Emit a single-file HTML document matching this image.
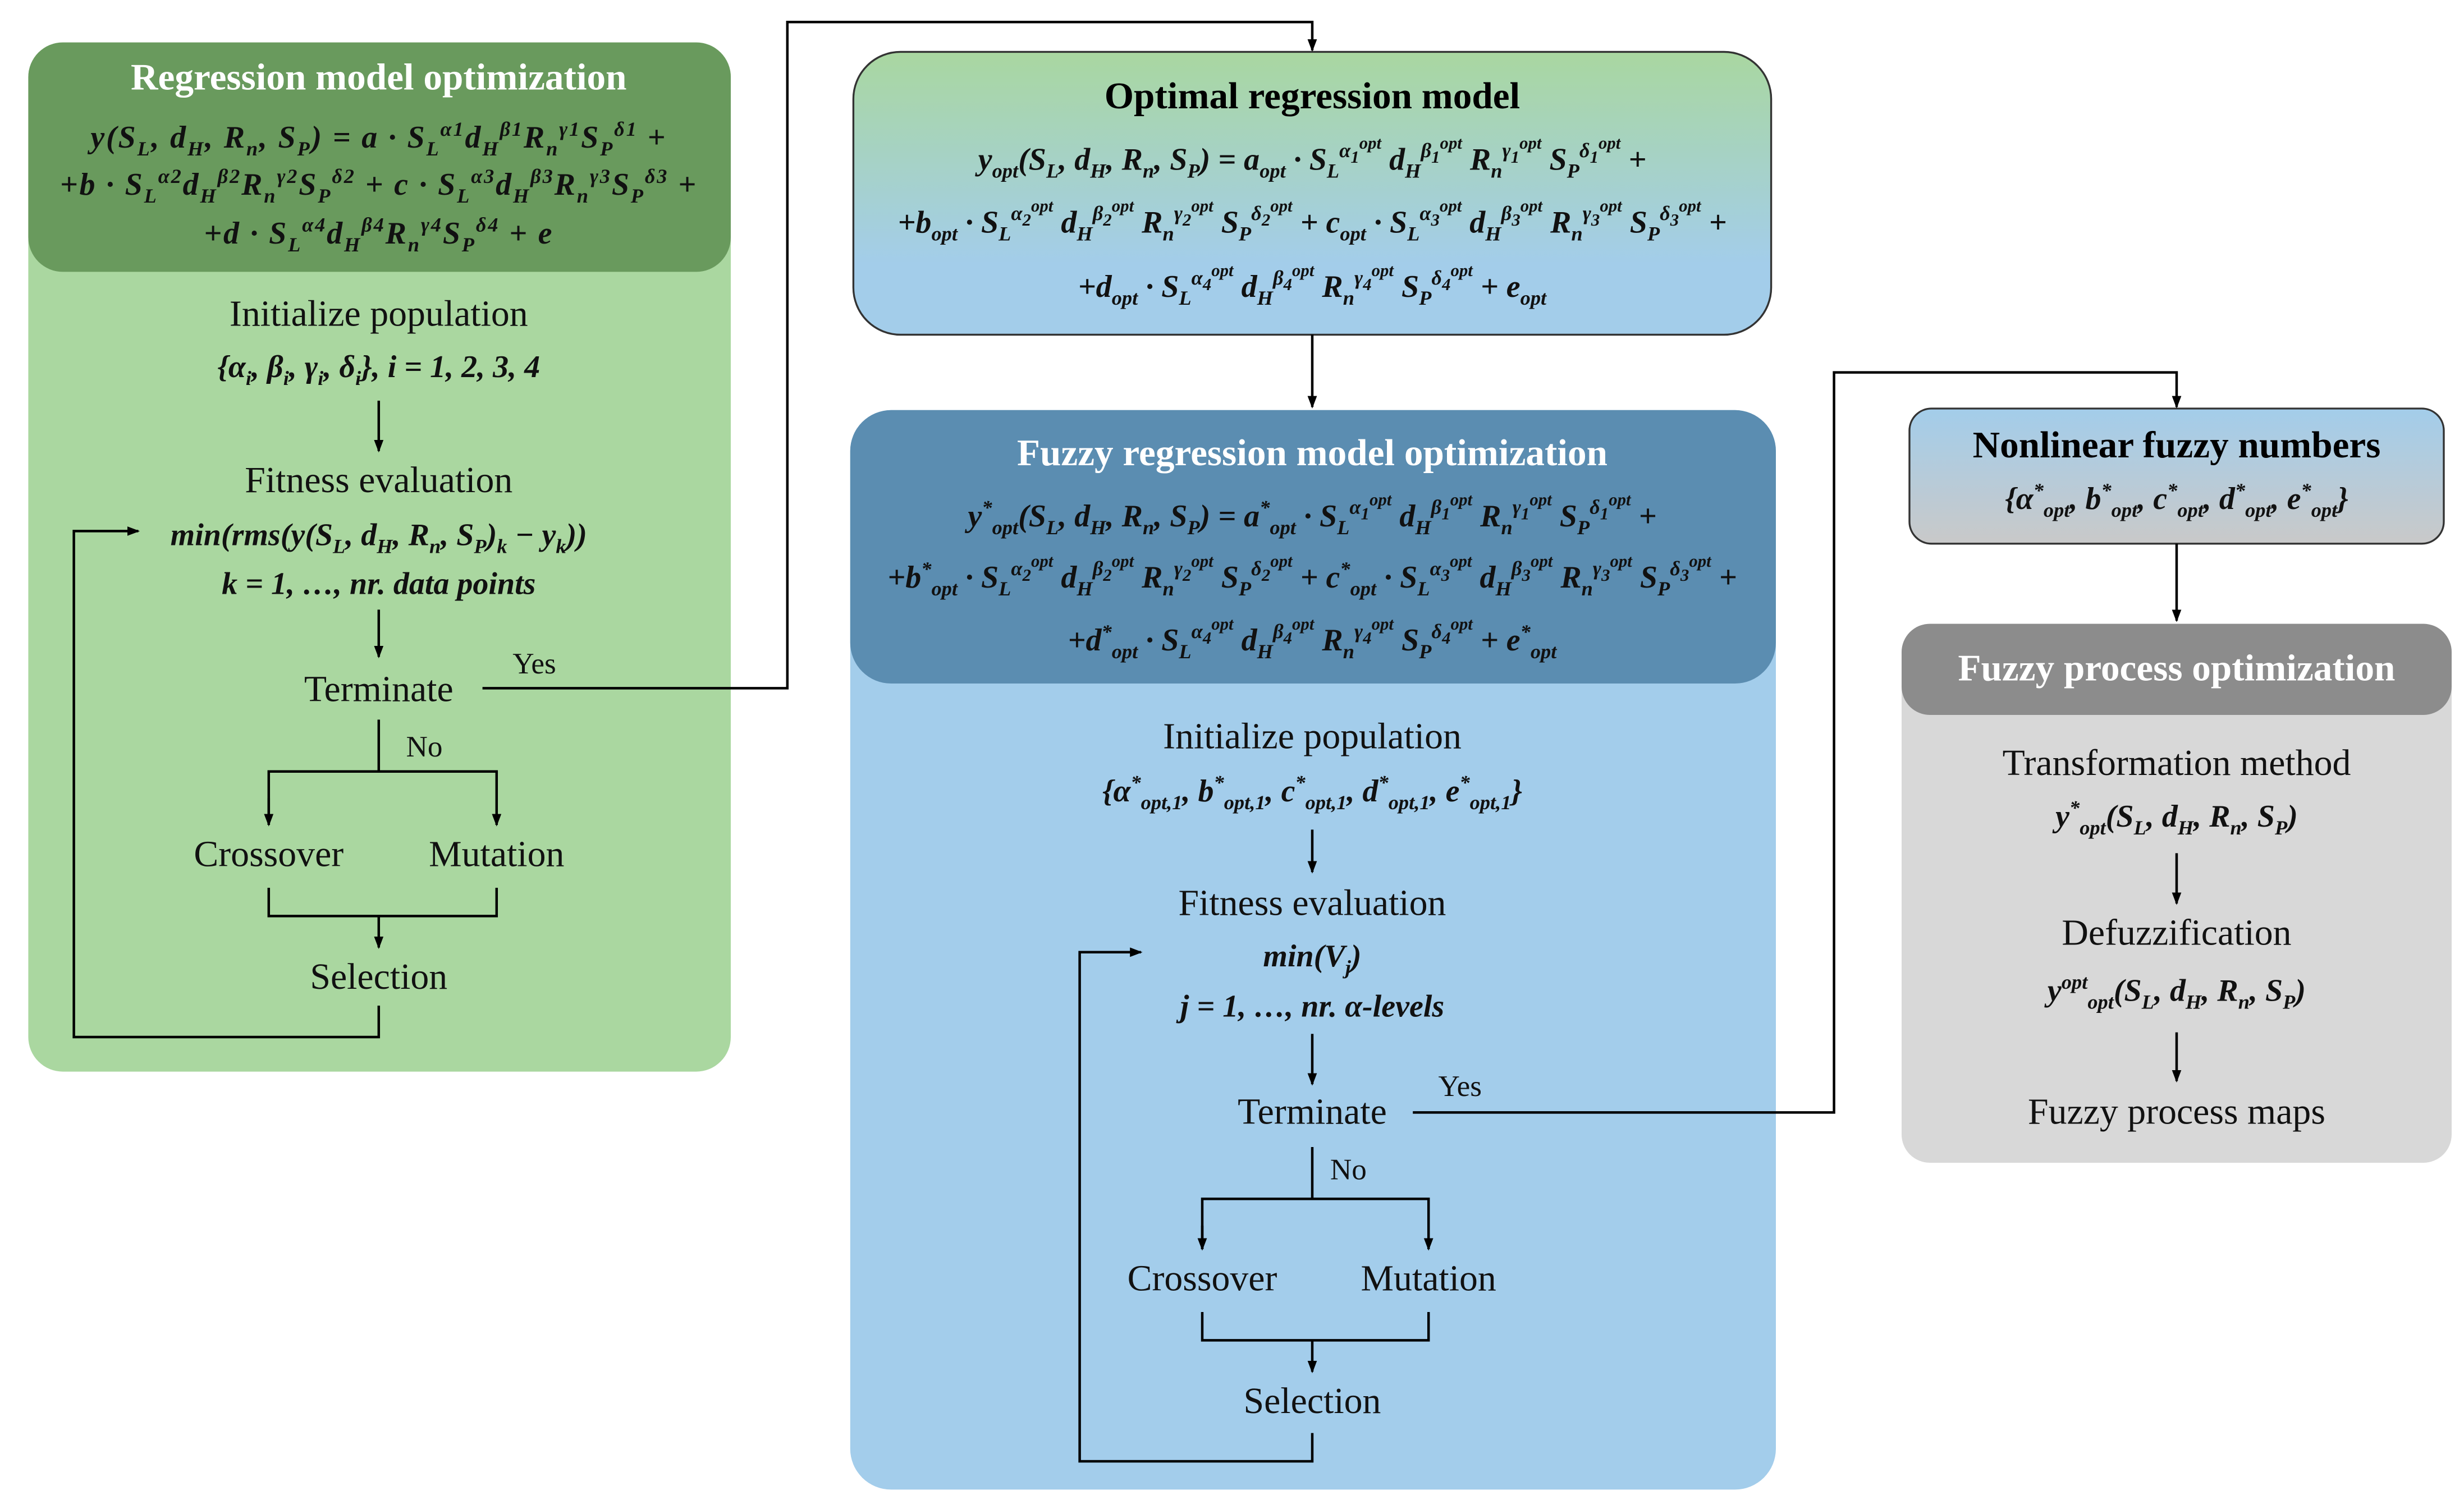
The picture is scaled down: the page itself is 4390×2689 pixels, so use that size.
<!DOCTYPE html>
<html><head><meta charset="utf-8"><style>
html,body{margin:0;padding:0;background:#fff;width:4390px;height:2689px;overflow:hidden}
#c{position:absolute;left:0;top:0;width:1568px;height:960px;transform:scale(2.8);transform-origin:0 0;font-family:"Liberation Serif",serif}
.t{position:absolute;width:700px;text-align:center;transform:translate(-350px,-50%);white-space:nowrap;line-height:1}
.h{font-weight:bold;font-size:24px}
.w{color:#fff}
.b{font-size:23.5px;color:#111}
.e{font-weight:bold;font-style:italic;font-size:20px;color:#111}
.e sub,.e sup{font-size:13px;line-height:0}
.e sup sup,.e sup sub{font-size:11px}
.l{letter-spacing:1px}
</style></head><body><div id="c">
<svg width="1568" height="960" style="position:absolute;left:0;top:0">
<defs>
<linearGradient id="g1" x1="0" y1="0" x2="0" y2="1"><stop offset="0" stop-color="#a9d7a0"/><stop offset="0.75" stop-color="#a3cdea"/></linearGradient>
<linearGradient id="g2" x1="0" y1="0" x2="0" y2="1"><stop offset="0" stop-color="#a3cdea"/><stop offset="1" stop-color="#c9c9c9"/></linearGradient>
<marker id="a" markerWidth="8" markerHeight="8" refX="7" refY="4" orient="auto" markerUnits="userSpaceOnUse"><path d="M0,1 L8,4 L0,7 z" fill="#000"/></marker>
</defs>
<rect x="18" y="27" width="447" height="655" rx="22" fill="#aad7a0"/>
<rect x="18" y="27" width="447" height="146" rx="22" fill="#699a5d"/>
<rect x="543" y="33" width="584" height="180" rx="30" fill="url(#g1)" stroke="#333" stroke-width="1.2"/>
<rect x="541" y="261" width="589" height="687" rx="26" fill="#a3cdeb"/>
<rect x="541" y="261" width="589" height="174" rx="26" fill="#5b8db1"/>
<rect x="1215" y="260" width="340" height="86" rx="14" fill="url(#g2)" stroke="#333" stroke-width="1.2"/>
<rect x="1210" y="397" width="350" height="343" rx="18" fill="#d8d8d8"/>
<rect x="1210" y="397" width="350" height="58" rx="18" fill="#8c8c8c"/>
<g stroke="#000" stroke-width="1.6" fill="none">
<line x1="241" y1="255" x2="241" y2="287" marker-end="url(#a)"/>
<line x1="241" y1="388" x2="241" y2="418" marker-end="url(#a)"/>
<polyline points="307,438 501,438 501,14 835,14 835,32" marker-end="url(#a)"/>
<polyline points="241,458 241,491"/>
<polyline points="171,525 171,491 316,491 316,525" marker-end="url(#a)"/>
<line x1="171" y1="508" x2="171" y2="525" marker-end="url(#a)"/>
<polyline points="171,565 171,583 316,583 316,565"/>
<line x1="241" y1="583" x2="241" y2="603" marker-end="url(#a)"/>
<polyline points="241,640 241,660 47,660 47,338 88,338" marker-end="url(#a)"/>
<line x1="835" y1="213" x2="835" y2="259" marker-end="url(#a)"/>
<line x1="835" y1="528" x2="835" y2="555" marker-end="url(#a)"/>
<line x1="835" y1="658" x2="835" y2="690" marker-end="url(#a)"/>
<polyline points="899,708 1167,708 1167,237 1385,237 1385,259" marker-end="url(#a)"/>
<polyline points="835,730 835,763"/>
<polyline points="765,795 765,763 909,763 909,795" marker-end="url(#a)"/>
<line x1="765" y1="780" x2="765" y2="795" marker-end="url(#a)"/>
<polyline points="765,835 765,853 909,853 909,835"/>
<line x1="835" y1="853" x2="835" y2="873" marker-end="url(#a)"/>
<polyline points="835,912 835,930 687,930 687,606 726,606" marker-end="url(#a)"/>
<line x1="1385" y1="346" x2="1385" y2="395" marker-end="url(#a)"/>
<line x1="1385" y1="543" x2="1385" y2="575" marker-end="url(#a)"/>
<line x1="1385" y1="657" x2="1385" y2="688" marker-end="url(#a)"/>
</g>
</svg>

<div class="t h w" style="left:241px;top:50px">Regression model optimization</div>
<div class="t e w l" style="left:241px;top:88px">y(S<sub>L</sub>, d<sub>H</sub>, R<sub>n</sub>, S<sub>P</sub>) = a · S<sub>L</sub><sup>α1</sup>d<sub>H</sub><sup>β1</sup>R<sub>n</sub><sup>γ1</sup>S<sub>P</sub><sup>δ1</sup> +</div>
<div class="t e w l" style="left:241px;top:118px">+b · S<sub>L</sub><sup>α2</sup>d<sub>H</sub><sup>β2</sup>R<sub>n</sub><sup>γ2</sup>S<sub>P</sub><sup>δ2</sup> + c · S<sub>L</sub><sup>α3</sup>d<sub>H</sub><sup>β3</sup>R<sub>n</sub><sup>γ3</sup>S<sub>P</sub><sup>δ3</sup> +</div>
<div class="t e w l" style="left:241px;top:149px">+d · S<sub>L</sub><sup>α4</sup>d<sub>H</sub><sup>β4</sup>R<sub>n</sub><sup>γ4</sup>S<sub>P</sub><sup>δ4</sup> + e</div>
<div class="t b" style="left:241px;top:201px">Initialize population</div>
<div class="t e" style="left:241px;top:234px">{α<sub>i</sub>, β<sub>i</sub>, γ<sub>i</sub>, δ<sub>i</sub>}, i = 1, 2, 3, 4</div>
<div class="t b" style="left:241px;top:307px">Fitness evaluation</div>
<div class="t e" style="left:241px;top:341px">min(rms(y(S<sub>L</sub>, d<sub>H</sub>, R<sub>n</sub>, S<sub>P</sub>)<sub>k</sub> − y<sub>k</sub>))</div>
<div class="t e" style="left:241px;top:372px">k = 1, …, nr. data points</div>
<div class="t b" style="left:241px;top:440px">Terminate</div>
<div class="t b" style="left:340px;top:423px;font-size:19px">Yes</div>
<div class="t b" style="left:270px;top:476px;font-size:19px">No</div>
<div class="t b" style="left:171px;top:545px">Crossover</div>
<div class="t b" style="left:316px;top:545px">Mutation</div>
<div class="t b" style="left:241px;top:623px">Selection</div>

<div class="t h" style="left:835px;top:62px">Optimal regression model</div>
<div class="t e" style="left:835px;top:102px">y<sub>opt</sub>(S<sub>L</sub>, d<sub>H</sub>, R<sub>n</sub>, S<sub>P</sub>) = a<sub>opt</sub> · S<sub>L</sub><sup>α<sub>1</sub><sup>opt</sup></sup> d<sub>H</sub><sup>β<sub>1</sub><sup>opt</sup></sup> R<sub>n</sub><sup>γ<sub>1</sub><sup>opt</sup></sup> S<sub>P</sub><sup>δ<sub>1</sub><sup>opt</sup></sup> +</div>
<div class="t e" style="left:835px;top:142px">+b<sub>opt</sub> · S<sub>L</sub><sup>α<sub>2</sub><sup>opt</sup></sup> d<sub>H</sub><sup>β<sub>2</sub><sup>opt</sup></sup> R<sub>n</sub><sup>γ<sub>2</sub><sup>opt</sup></sup> S<sub>P</sub><sup>δ<sub>2</sub><sup>opt</sup></sup> + c<sub>opt</sub> · S<sub>L</sub><sup>α<sub>3</sub><sup>opt</sup></sup> d<sub>H</sub><sup>β<sub>3</sub><sup>opt</sup></sup> R<sub>n</sub><sup>γ<sub>3</sub><sup>opt</sup></sup> S<sub>P</sub><sup>δ<sub>3</sub><sup>opt</sup></sup> +</div>
<div class="t e" style="left:835px;top:183px">+d<sub>opt</sub> · S<sub>L</sub><sup>α<sub>4</sub><sup>opt</sup></sup> d<sub>H</sub><sup>β<sub>4</sub><sup>opt</sup></sup> R<sub>n</sub><sup>γ<sub>4</sub><sup>opt</sup></sup> S<sub>P</sub><sup>δ<sub>4</sub><sup>opt</sup></sup> + e<sub>opt</sub></div>

<div class="t h w" style="left:835px;top:289px">Fuzzy regression model optimization</div>
<div class="t e w" style="left:835px;top:329px">y<sup>*</sup><sub>opt</sub>(S<sub>L</sub>, d<sub>H</sub>, R<sub>n</sub>, S<sub>P</sub>) = a<sup>*</sup><sub>opt</sub> · S<sub>L</sub><sup>α<sub>1</sub><sup>opt</sup></sup> d<sub>H</sub><sup>β<sub>1</sub><sup>opt</sup></sup> R<sub>n</sub><sup>γ<sub>1</sub><sup>opt</sup></sup> S<sub>P</sub><sup>δ<sub>1</sub><sup>opt</sup></sup> +</div>
<div class="t e w" style="left:835px;top:368px">+b<sup>*</sup><sub>opt</sub> · S<sub>L</sub><sup>α<sub>2</sub><sup>opt</sup></sup> d<sub>H</sub><sup>β<sub>2</sub><sup>opt</sup></sup> R<sub>n</sub><sup>γ<sub>2</sub><sup>opt</sup></sup> S<sub>P</sub><sup>δ<sub>2</sub><sup>opt</sup></sup> + c<sup>*</sup><sub>opt</sub> · S<sub>L</sub><sup>α<sub>3</sub><sup>opt</sup></sup> d<sub>H</sub><sup>β<sub>3</sub><sup>opt</sup></sup> R<sub>n</sub><sup>γ<sub>3</sub><sup>opt</sup></sup> S<sub>P</sub><sup>δ<sub>3</sub><sup>opt</sup></sup> +</div>
<div class="t e w" style="left:835px;top:408px">+d<sup>*</sup><sub>opt</sub> · S<sub>L</sub><sup>α<sub>4</sub><sup>opt</sup></sup> d<sub>H</sub><sup>β<sub>4</sub><sup>opt</sup></sup> R<sub>n</sub><sup>γ<sub>4</sub><sup>opt</sup></sup> S<sub>P</sub><sup>δ<sub>4</sub><sup>opt</sup></sup> + e<sup>*</sup><sub>opt</sub></div>
<div class="t b" style="left:835px;top:470px">Initialize population</div>
<div class="t e" style="left:835px;top:504px">{α<sup>*</sup><sub>opt,1</sub>, b<sup>*</sup><sub>opt,1</sub>, c<sup>*</sup><sub>opt,1</sub>, d<sup>*</sup><sub>opt,1</sub>, e<sup>*</sup><sub>opt,1</sub>}</div>
<div class="t b" style="left:835px;top:576px">Fitness evaluation</div>
<div class="t e" style="left:835px;top:609px">min(V<sub>j</sub>)</div>
<div class="t e" style="left:835px;top:641px">j = 1, …, nr. α-levels</div>
<div class="t b" style="left:835px;top:709px">Terminate</div>
<div class="t b" style="left:929px;top:692px;font-size:19px">Yes</div>
<div class="t b" style="left:858px;top:745px;font-size:19px">No</div>
<div class="t b" style="left:765px;top:815px">Crossover</div>
<div class="t b" style="left:909px;top:815px">Mutation</div>
<div class="t b" style="left:835px;top:893px">Selection</div>

<div class="t h" style="left:1385px;top:284px">Nonlinear fuzzy numbers</div>
<div class="t e" style="left:1385px;top:318px">{α<sup>*</sup><sub>opt</sub>, b<sup>*</sup><sub>opt</sub>, c<sup>*</sup><sub>opt</sub>, d<sup>*</sup><sub>opt</sub>, e<sup>*</sup><sub>opt</sub>}</div>
<div class="t h w" style="left:1385px;top:426px">Fuzzy process optimization</div>
<div class="t b" style="left:1385px;top:487px">Transformation method</div>
<div class="t e" style="left:1385px;top:520px">y<sup>*</sup><sub>opt</sub>(S<sub>L</sub>, d<sub>H</sub>, R<sub>n</sub>, S<sub>P</sub>)</div>
<div class="t b" style="left:1385px;top:595px">Defuzzification</div>
<div class="t e" style="left:1385px;top:631px">y<sup>opt</sup><sub>opt</sub>(S<sub>L</sub>, d<sub>H</sub>, R<sub>n</sub>, S<sub>P</sub>)</div>
<div class="t b" style="left:1385px;top:709px">Fuzzy process maps</div>
</div></body></html>
